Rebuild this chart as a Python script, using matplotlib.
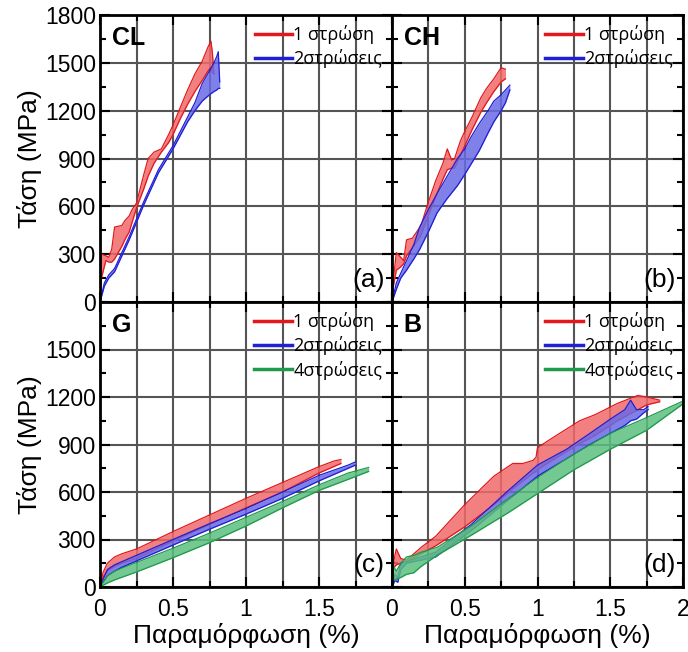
import matplotlib
matplotlib.use("Agg")
from matplotlib import pyplot as plt
from matplotlib.ticker import MultipleLocator, FormatStrFormatter

plt.rcParams['font.family'] = ['Liberation Sans', 'DejaVu Sans']

# ---- data (strain %, stress MPa; upper / lower band edges) ----
# (a) CL
a_red_x = [0, 0.01, 0.04, 0.06, 0.08, 0.1, 0.15, 0.17, 0.2, 0.22, 0.25, 0.3, 0.33, 0.37, 0.42, 0.47, 0.5, 0.55, 0.6, 0.65, 0.7, 0.74, 0.76, 0.77, 0.78]
a_red_hi = [0, 300, 290, 280, 330, 470, 480, 510, 540, 580, 620, 800, 900, 940, 960, 1050, 1110, 1220, 1330, 1430, 1510, 1600, 1636, 1560, 1430]
a_red_lo = [0, 150, 260, 250, 250, 270, 350, 390, 440, 500, 590, 710, 790, 870, 940, 1000, 1050, 1150, 1240, 1320, 1390, 1450, 1470, 1440, 1430]
a_blue_x = [0, 0.03, 0.06, 0.1, 0.15, 0.2, 0.3, 0.4, 0.5, 0.6, 0.65, 0.7, 0.75, 0.78, 0.8, 0.81, 0.82]
a_blue_hi = [0, 120, 170, 210, 310, 410, 630, 830, 980, 1160, 1250, 1370, 1450, 1500, 1540, 1570, 1380]
a_blue_lo = [0, 100, 150, 190, 290, 390, 610, 810, 960, 1130, 1200, 1260, 1300, 1320, 1330, 1340, 1340]

# (b) CH
b_red_x = [0, 0.01, 0.03, 0.06, 0.08, 0.1, 0.14, 0.17, 0.2, 0.24, 0.3, 0.35, 0.38, 0.41, 0.43, 0.47, 0.5, 0.55, 0.61, 0.65, 0.7, 0.75, 0.78]
b_red_hi = [0, 150, 310, 280, 260, 390, 400, 440, 480, 600, 760, 870, 960, 890, 900, 1010, 1070, 1160, 1280, 1340, 1400, 1470, 1460]
b_red_lo = [0, 100, 200, 220, 240, 290, 340, 380, 420, 520, 660, 770, 830, 840, 840, 920, 980, 1080, 1190, 1250, 1320, 1380, 1400]
b_blue_x = [0, 0.03, 0.06, 0.1, 0.15, 0.19, 0.25, 0.31, 0.38, 0.45, 0.5, 0.54, 0.6, 0.66, 0.7, 0.75, 0.78, 0.81]
b_blue_hi = [0, 120, 180, 260, 360, 470, 580, 680, 790, 900, 960, 1030, 1120, 1200, 1260, 1300, 1330, 1360]
b_blue_lo = [0, 80, 150, 200, 270, 330, 440, 560, 650, 730, 800, 860, 950, 1060, 1130, 1200, 1250, 1330]

# (c) G
c_red_x = [0, 0.02, 0.05, 0.1, 0.15, 0.2, 0.25, 0.5, 0.75, 1.0, 1.25, 1.5, 1.6, 1.65]
c_red_hi = [0, 90, 150, 190, 210, 225, 240, 350, 455, 560, 660, 760, 795, 805]
c_red_lo = [0, 60, 100, 130, 150, 165, 180, 290, 395, 500, 600, 720, 760, 780]
c_blue_x = [0, 0.05, 0.1, 0.15, 0.25, 0.5, 0.75, 1.0, 1.25, 1.5, 1.7, 1.75]
c_blue_hi = [0, 110, 140, 160, 200, 300, 400, 495, 600, 705, 770, 790]
c_blue_lo = [0, 70, 100, 125, 165, 265, 365, 460, 560, 670, 750, 770]
c_green_x = [0, 0.05, 0.1, 0.25, 0.5, 0.75, 1.0, 1.25, 1.5, 1.7, 1.84]
c_green_hi = [0, 70, 100, 155, 245, 340, 440, 540, 645, 720, 755]
c_green_lo = [0, 25, 45, 95, 185, 280, 385, 500, 610, 680, 730]

# (d) B
d_red_x = [0, 0.02, 0.03, 0.06, 0.1, 0.2, 0.3, 0.5, 0.7, 0.83, 0.9, 0.97, 0.99, 1.0, 1.1, 1.29, 1.4, 1.55, 1.69, 1.75, 1.84]
d_red_hi = [100, 200, 240, 180, 170, 250, 320, 520, 700, 780, 780, 800, 820, 880, 940, 1050, 1090, 1160, 1210, 1200, 1180]
d_red_lo = [100, 130, 140, 150, 160, 210, 260, 380, 520, 620, 670, 720, 730, 740, 800, 905, 960, 1050, 1120, 1150, 1170]
d_blue_x = [0, 0.02, 0.04, 0.06, 0.1, 0.2, 0.3, 0.55, 0.8, 1.0, 1.2, 1.36, 1.5, 1.6, 1.64, 1.68, 1.73, 1.76]
d_blue_hi = [0, 80, 60, 150, 160, 190, 220, 400, 610, 770, 870, 970, 1060, 1120, 1180, 1120, 1120, 1140]
d_blue_lo = [0, 40, 30, 110, 150, 170, 190, 360, 550, 700, 810, 900, 970, 1020, 1050, 1060, 1100, 1120]
d_green_x = [0, 0.01, 0.03, 0.06, 0.1, 0.15, 0.2, 0.31, 0.55, 0.8, 1.0, 1.25, 1.5, 1.75, 1.99]
d_green_hi = [0, 130, 100, 150, 190, 200, 220, 250, 390, 560, 690, 840, 970, 1070, 1170]
d_green_lo = [0, 40, 50, 60, 80, 90, 130, 200, 330, 470, 590, 740, 870, 990, 1150]

legend_labels = ['1 στρώση', '2στρώσεις', '4στρώσεις']
panel_names = ['CL', 'CH', 'G', 'B']
panel_tags = ['(a)', '(b)', '(c)', '(d)']

edge_colors = ['#e3181c', '#1f1fd6', '#1f9a4c']
fill_colors = ['#f06a6a', '#6a6ae6', '#5cbf7e']

panels = [
    [(a_red_x, a_red_hi, a_red_lo), (a_blue_x, a_blue_hi, a_blue_lo)],
    [(b_red_x, b_red_hi, b_red_lo), (b_blue_x, b_blue_hi, b_blue_lo)],
    [(c_red_x, c_red_hi, c_red_lo), (c_blue_x, c_blue_hi, c_blue_lo), (c_green_x, c_green_hi, c_green_lo)],
    [(d_red_x, d_red_hi, d_red_lo), (d_blue_x, d_blue_hi, d_blue_lo), (d_green_x, d_green_hi, d_green_lo)],
]

fig = plt.figure(figsize=(6.88, 6.52), dpi=100)
W, H = 688, 652
boxes = [(100, 15, 292, 287), (392, 15, 291, 287), (100, 302, 292, 285), (392, 302, 291, 285)]

for i, (px, py, pw, ph) in enumerate(boxes):
    ax = fig.add_axes([px / W, 1 - (py + ph) / H, pw / W, ph / H])
    for k, (x, hi, lo) in enumerate(panels[i]):
        ax.fill_between(x, lo, hi, color=fill_colors[k], alpha=0.85, lw=0, zorder=3 + k)
        ax.plot(x, hi, color=edge_colors[k], lw=0.9, zorder=3 + k)
        ax.plot(x, lo, color=edge_colors[k], lw=0.9, zorder=3 + k)
        ax.plot([], [], color=edge_colors[k], lw=2.5, label=legend_labels[k])

    ax.set_xlim(0, 2)
    ax.set_ylim(0, 1800)
    ax.xaxis.set_major_locator(MultipleLocator(0.5))
    ax.yaxis.set_major_locator(MultipleLocator(300))
    ax.yaxis.set_minor_locator(MultipleLocator(150))
    ax.set_xticks([0.25, 0.75, 1.25, 1.75], minor=True)
    ax.xaxis.set_major_formatter(FormatStrFormatter('%g'))
    ax.grid(True, which='major', color='#555555', lw=1.5, zorder=1)
    ax.grid(True, which='minor', axis='x', color='#555555', lw=1.5, zorder=1)
    ax.tick_params(which='both', direction='in', top=True, right=True, labelsize=16.5, width=1.5)
    ax.tick_params(which='major', length=7)
    ax.tick_params(which='minor', length=4)
    ax.tick_params(axis='x', which='major', pad=8)
    ax.tick_params(axis='y', which='major', pad=3)
    for s in ax.spines.values():
        s.set_linewidth(2)
        s.set_zorder(10)

    if i < 2:
        ax.tick_params(labelbottom=False)
    else:
        ax.set_xlabel('Παραμόρφωση (%)', fontsize=19, labelpad=1)
    if i % 2 == 1:
        ax.tick_params(labelleft=False)
    else:
        ax.set_ylabel('Τάση (MPa)', fontsize=19, labelpad=2)
        ax.set_yticks([0, 300, 600, 900, 1200, 1500, 1800] if i == 0 else [0, 300, 600, 900, 1200, 1500])
    if i == 2:
        ax.set_xticks([0, 0.5, 1, 1.5])
    if i == 3:
        ax.set_xticks([0, 0.5, 1, 1.5, 2])

    ax.text(0.04, 0.96, panel_names[i], transform=ax.transAxes, fontsize=18,
            fontweight='bold', ha='left', va='top', zorder=12)
    ax.text(0.975, 0.035, panel_tags[i], transform=ax.transAxes, fontsize=19,
            ha='right', va='bottom', zorder=12)
    leg = ax.legend(loc='upper right', frameon=False, handlelength=2.1, handletextpad=0.05,
                    borderaxespad=0.15, labelspacing=0.3, prop={'family': 'Open Sans', 'size': 13})
    leg.set_zorder(12)

fig.savefig('out.png', dpi=100)
